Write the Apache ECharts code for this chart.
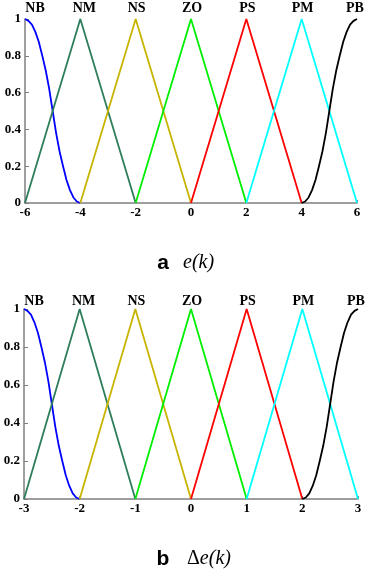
<!DOCTYPE html>
<html>
<head>
<meta charset="utf-8">
<script src="https://cdn.jsdelivr.net/npm/echarts@6/dist/echarts.min.js"></script>
<style>html,body{margin:0;padding:0;background:#fff}#c{width:373px;height:574px}</style>
</head>
<body>
<div id="c"></div>
<script>
// ---- data ----
const setNames = ['NB', 'NM', 'NS', 'ZO', 'PS', 'PM', 'PB'];
const eTicks = [-6, -4, -2, 0, 2, 4, 6];
const deTicks = [-3, -2, -1, 0, 1, 2, 3];
const yTicks = [0, 0.2, 0.4, 0.6, 0.8, 1];
// triangles: [left foot, peak, right foot] x-values, membership [0,1,0]
const triMu = [0, 1, 0];
const eNM = [-6, -4, -2], eNS = [-4, -2, 0], eZO = [-2, 0, 2], ePS = [0, 2, 4], ePM = [2, 4, 6];
const deNM = [-3, -2, -1], deNS = [-2, -1, 0], deZO = [-1, 0, 1], dePS = [0, 1, 2], dePM = [1, 2, 3];
// Z-shaped NB and S-shaped PB
const eNBx = [-6, -5.875, -5.75, -5.625, -5.5, -5.375, -5.25, -5.125, -5, -4.875, -4.75, -4.625, -4.5, -4.375, -4.25, -4.125, -4];
const ePBx = [4, 4.125, 4.25, 4.375, 4.5, 4.625, 4.75, 4.875, 5, 5.125, 5.25, 5.375, 5.5, 5.625, 5.75, 5.875, 6];
const deNBx = [-3, -2.9375, -2.875, -2.8125, -2.75, -2.6875, -2.625, -2.5625, -2.5, -2.4375, -2.375, -2.3125, -2.25, -2.1875, -2.125, -2.0625, -2];
const dePBx = [2, 2.0625, 2.125, 2.1875, 2.25, 2.3125, 2.375, 2.4375, 2.5, 2.5625, 2.625, 2.6875, 2.75, 2.8125, 2.875, 2.9375, 3];
const zMu = [1, 0.99, 0.97, 0.93, 0.875, 0.8, 0.72, 0.62, 0.5, 0.38, 0.28, 0.2, 0.125, 0.07, 0.03, 0.008, 0];
const sMu = [0, 0.008, 0.03, 0.07, 0.125, 0.2, 0.28, 0.38, 0.5, 0.62, 0.72, 0.8, 0.875, 0.93, 0.97, 0.99, 1];

const colors = ['#0000ff', '#2e7d5b', '#c8b400', '#00ee00', '#ff0000', '#00ffff', '#000000'];

function pairs(xs, ys) { return xs.map((x, i) => [x, ys[i]]); }

function buildSeries(gi, nbx, tris, pbx) {
  const out = [];
  const labelBase = {
    show: true, position: 'top', distance: gi === 0 ? 3 : 0,
    fontFamily: 'Liberation Serif', fontWeight: 'bold', fontSize: 14, color: '#000'
  };
  const mk = (name, data, color) => ({
    type: 'line', name, xAxisIndex: gi, yAxisIndex: gi, data,
    symbol: 'circle', symbolSize: 1, showSymbol: true, showAllSymbol: true,
    smooth: false, animation: false,
    lineStyle: { color, width: 1.8 }, itemStyle: { color: 'rgba(0,0,0,0)', borderWidth: 0 }
  });
  const nb = pairs(nbx, zMu);
  nb[0] = { value: nb[0], label: Object.assign({}, labelBase, { formatter: setNames[0], offset: [10, 0] }) };
  out.push(mk(setNames[0], nb, colors[0]));
  tris.forEach((t, k) => {
    const d = pairs(t, triMu);
    d[1] = { value: d[1], label: Object.assign({}, labelBase, { formatter: setNames[k + 1], offset: [k === 0 ? 4 : 1, 0] }) };
    out.push(mk(setNames[k + 1], d, colors[k + 1]));
  });
  const pb = pairs(pbx, sMu);
  pb[pb.length - 1] = { value: pb[pb.length - 1], label: Object.assign({}, labelBase, { formatter: setNames[6], offset: [-2, 0] }) };
  out.push(mk(setNames[6], pb, colors[6]));
  return out;
}

const axisLab = { fontFamily: 'Liberation Serif', fontWeight: 'bold', fontSize: 13, color: '#000' };
function xAx(gi, ticks) {
  return {
    type: 'value', gridIndex: gi, min: ticks[0], max: ticks[ticks.length - 1],
    interval: ticks[1] - ticks[0], splitLine: { show: false },
    axisLine: { onZero: false, lineStyle: { color: '#7f7f7f', width: 1.5 } },
    axisTick: { show: true, inside: true, length: 3, lineStyle: { color: '#7f7f7f' } },
    axisLabel: Object.assign({ margin: 3 }, axisLab)
  };
}
function yAx(gi) {
  return {
    type: 'value', gridIndex: gi, min: yTicks[0], max: yTicks[yTicks.length - 1], interval: 0.2,
    splitLine: { show: false },
    axisLine: { show: true, onZero: false, lineStyle: { color: '#7f7f7f', width: 1.5 } },
    axisTick: { show: true, inside: true, length: 4, lineStyle: { color: '#7f7f7f' } },
    axisLabel: Object.assign({ margin: 4 }, axisLab)
  };
}

const chart = echarts.init(document.getElementById('c'), null, { renderer: 'canvas' });
chart.setOption({
  animation: false,
  grid: [
    { left: 25, right: 16, top: 19, height: 184 },
    { left: 24, right: 15, top: 309, height: 190 }
  ],
  xAxis: [xAx(0, eTicks), xAx(1, deTicks)],
  yAxis: [yAx(0), yAx(1)],
  series: [].concat(
    buildSeries(0, eNBx, [eNM, eNS, eZO, ePS, ePM], ePBx),
    buildSeries(1, deNBx, [deNM, deNS, deZO, dePS, dePM], dePBx)
  ),
  graphic: [
    { type: 'text', x: 163, y: 263, style: { text: 'a', font: 'bold 21px "Liberation Sans"', fill: '#000', textAlign: 'center', textVerticalAlign: 'middle' } },
    { type: 'text', x: 183, y: 263, style: { text: 'e(k)', font: 'italic 20px "Liberation Serif"', fill: '#000', textAlign: 'left', textVerticalAlign: 'middle' } },
    { type: 'text', x: 163, y: 559, style: { text: 'b', font: 'bold 21px "Liberation Sans"', fill: '#000', textAlign: 'center', textVerticalAlign: 'middle' } },
    { type: 'text', x: 187, y: 559, style: {
        text: '{d|Δ}{e|e(k)}', textAlign: 'left', textVerticalAlign: 'middle',
        rich: { d: { font: '20px "Liberation Serif"', fill: '#000' }, e: { font: 'italic 20px "Liberation Serif"', fill: '#000' } }
      } }
  ]
});
</script>
</body>
</html>
